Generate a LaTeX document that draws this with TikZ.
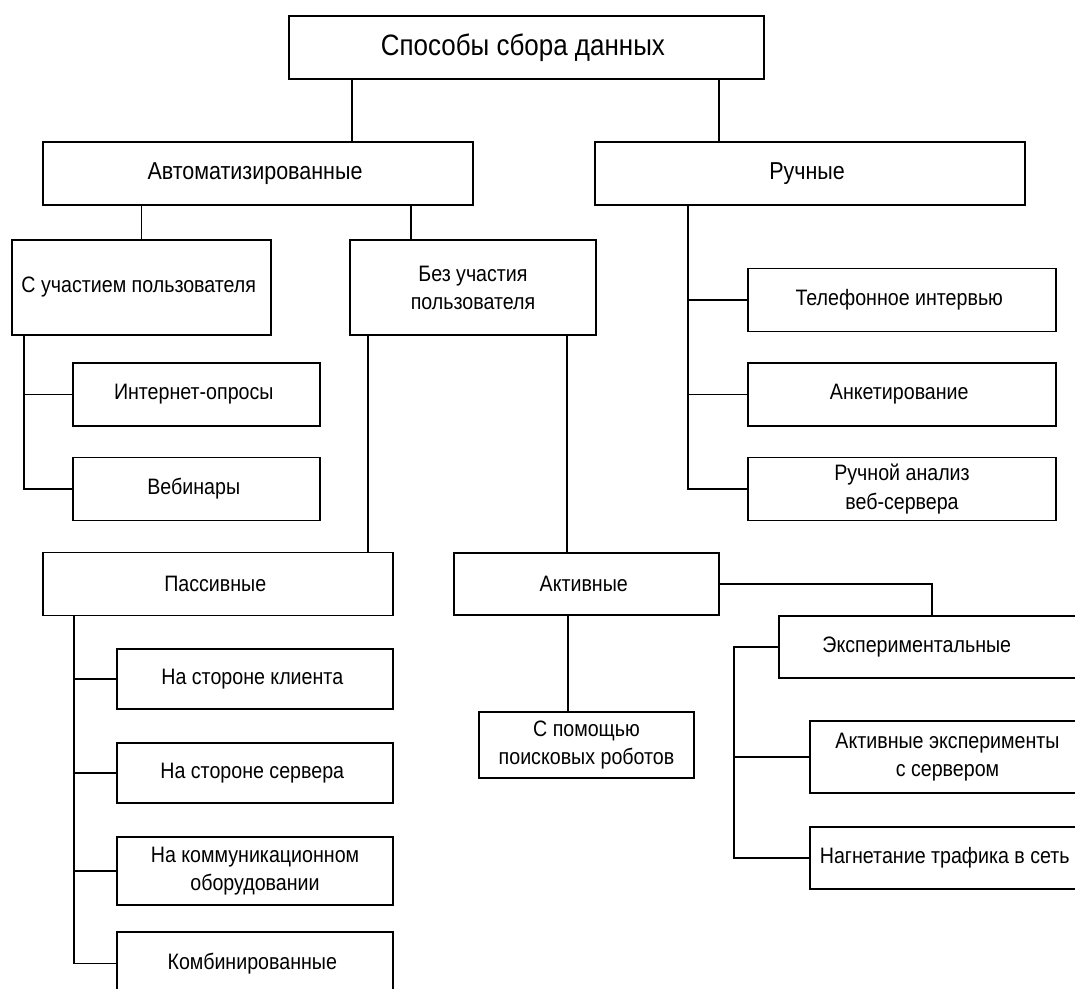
\documentclass[tikz,border=0pt]{standalone}
\usepackage{fontspec}
\setmainfont{Liberation Sans}[FakeStretch=0.88]

\begin{document}
\begin{tikzpicture}[
            x=0.02cm, y=-0.02cm,
                base/.style = {rectangle, draw=black, line width=0.95pt,
                            inner sep=0pt, text centered, align=center,
                            font=\fontsize{12.7pt}{16pt}\selectfont},
                titlebox/.style = {base, minimum width=9.5cm, minimum height=1.26cm,
                            font=\fontsize{16.8pt}{20pt}\selectfont},
                branch/.style = {base, minimum width=8.6cm, minimum height=1.26cm,
                            font=\fontsize{13.9pt}{16pt}\selectfont},
                group/.style = {base, minimum height=1.9cm},
                leaf/.style = {base, minimum height=1.26cm},
                leftleaf/.style = {base, minimum width=4.94cm, minimum height=1.26cm},
                rightleaf/.style = {base, minimum width=6.16cm, minimum height=1.26cm},
                passleaf/.style = {base, minimum width=5.52cm, minimum height=1.2cm},
                expleaf/.style = {base, minimum width=5.5cm, minimum height=1.24cm},
            link/.style = {line width=0.95pt}]
            \clip (0,0) rectangle (1075,988);
            \node (root) [titlebox] at (526.5,47.5) {
                Способы сбора данных
            };
            \node (automated) [branch] at (258,173.5) {
                Автоматизированные
            };
            \node (manual) [branch] at (810,173.5) {
                Ручные
            };
            \node (withUser) [group, minimum width=5.18cm] at (141.5,287.5) {
                С участием пользователя
            };
            \node (withoutUser) [group, minimum width=4.92cm] at (473,287.5) {
                Без участия \\
                пользователя
            };
            \node (phone) [rightleaf] at (902,300) {
                Телефонное интервью
            };
            \node (survey) [rightleaf] at (902,394.5) {
                Анкетирование
            };
            \node (manualLog) [rightleaf] at (902,489) {
                Ручной анализ \\
                веб-сервера
            };
            \node (poll) [leftleaf] at (196.5,394.5) {
                Интернет-опросы
            };
            \node (webinar) [leftleaf] at (196.5,489) {
                Вебинары
            };
            \node (passive) [leaf, minimum width=7.0cm] at (218,584) {
                Пассивные
            };
            \node (active) [leaf, minimum width=5.3cm, minimum height=1.24cm] at (586.5,584) {
                Активные
            };
            \node (client) [passleaf] at (255,679) {
                На стороне клиента
            };
            \node (server) [passleaf] at (255,773) {
                На стороне сервера
            };
            \node (comm) [passleaf, minimum height=1.36cm] at (255,871) {
                На коммуникационном \\
                оборудовании
            };
            \node (combined) [passleaf, minimum height=1.26cm] at (255,963.5) {
                Комбинированные
            };
            \node (robots) [leaf, minimum width=4.3cm, minimum height=1.32cm] at (586.5,745) {
                С помощью \\
                поисковых роботов
            };
            \node (exper) [expleaf, minimum width=6.12cm] at (932,647) {
                \hspace*{-0.5cm}Экспериментальные
            };
            \node (activeExp) [expleaf, minimum height=1.44cm] at (947.5,757) {
                Активные эксперименты \\
                с сервером
            };
            \node (inject) [expleaf] at (947.5,858) {
                Нагнетание трафика в сеть
            };
            \coordinate (mTrunk) at ([xshift=-2.44cm]manual.south);
            \coordinate (uTrunk) at ([xshift=-2.35cm]withUser.south);
            \coordinate (pTrunk) at ([xshift=-2.88cm]passive.south);
            \coordinate (eTrunk) at ([xshift=-0.88cm]exper.west);
            \draw[link] ([xshift=1.88cm]automated.north) -- ([xshift=1.88cm]automated.north |- root.south);
            \draw[link] ([xshift=-1.82cm]manual.north) -- ([xshift=-1.82cm]manual.north |- root.south);
            \draw[link] (withUser.north) -- (withUser.north |- automated.south);
            \draw[link] ([xshift=-1.24cm]withoutUser.north) -- ([xshift=-1.24cm]withoutUser.north |- automated.south);
            \draw[link] (mTrunk) |- (manualLog.west);
            \draw[link] (phone.west) -- (phone.west -| mTrunk);
            \draw[link] (survey.west) -- (survey.west -| mTrunk);
            \draw[link] (uTrunk) |- (webinar.west);
            \draw[link] (poll.west) -- (poll.west -| uTrunk);
            \draw[link] ([xshift=-2.1cm]withoutUser.south) -- ([xshift=-2.1cm]withoutUser.south |- passive.north);
            \draw[link] ([xshift=1.88cm]withoutUser.south) -- ([xshift=1.88cm]withoutUser.south |- active.north);
            \draw[link] (pTrunk) |- (combined.west);
            \draw[link] (client.west) -- (client.west -| pTrunk);
            \draw[link] (server.west) -- (server.west -| pTrunk);
            \draw[link] (comm.west) -- (comm.west -| pTrunk);
            \draw[link] ([xshift=-0.37cm]active.south) -- ([xshift=-0.37cm]active.south |- robots.north);
            \draw[link] (active.east) -| (exper.north);
            \draw[link] (exper.west) -- (eTrunk) |- (inject.west);
            \draw[link] (activeExp.west) -- (activeExp.west -| eTrunk);
        \end{tikzpicture}
\end{document}
